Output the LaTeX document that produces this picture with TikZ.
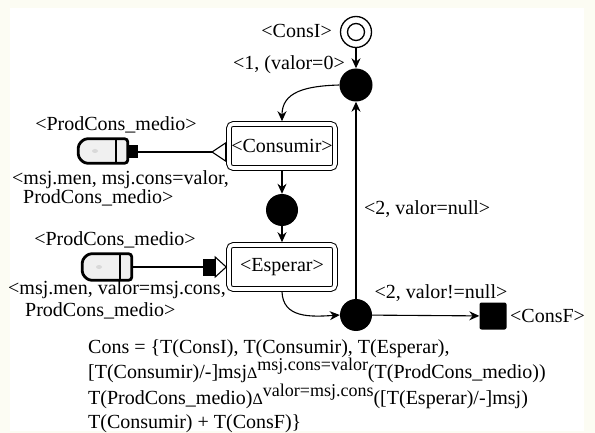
\documentclass[tikz,border=0pt]{standalone}
\usepackage{fontspec}
\setmainfont{Liberation Serif}
\usetikzlibrary{arrows.meta,calc}
\definecolor{cream}{HTML}{FCFCF3}
\definecolor{iconfill}{HTML}{F0F0F0}
\newcommand\mysup[1]{\raisebox{8pt}{\fontsize{18}{18}\selectfont #1}}
\newcommand\mydelta{{\fontsize{16}{16}\selectfont Δ}}
\begin{document}
\begin{tikzpicture}[x=1pt,y=-1pt,
  every node/.style={font=\fontsize{20}{22}\selectfont, inner sep=0pt},
  junc/.style={circle, fill=black, minimum size=33pt},
  statebox/.style={draw, rounded corners=4pt, double, double distance=3.6pt, line width=1pt,
    minimum width=106pt, minimum height=44pt, outer sep=2.8pt},
  arr/.style={line width=1.1pt, -{Stealth[length=10pt,width=9pt]}},
  conn/.style={line width=1.1pt},
  iconbody/.style={line width=2.8pt, fill=iconfill, rounded corners=3pt},
  iconsq/.style={fill=black},
]
\fill[cream] (0,0) rectangle (595,433);
\fill[white] (10,8) rectangle (584,431);
\useasboundingbox (0,0) rectangle (595,433);

% states and junctions
\node[draw, circle, line width=1.3pt, minimum size=31pt] (consI) at (356,32) {};
\node[draw, circle, line width=1.3pt, minimum size=17pt] (consIin) at (consI) {};
\node[anchor=east] (labConsI) at (332,31) {<ConsI>};
\node[junc] (j1) at (356,85) {};
\node[anchor=east] (lab1) at (345,65) {<1, (valor=0>};
\node[statebox] (cons) at (282,146) {<Consumir>};
\node[junc, minimum size=32pt] (j2) at (282,210) {};
\node[statebox] (esp) at (282,267) {<Esperar>};
\node[junc, minimum size=32pt] (j3) at (356,315) {};
\node[fill=black, rounded corners=2pt, minimum size=27pt] (consF) at (493,316) {};
\node[anchor=west] (labF) at (510,316) {<ConsF>};
\node (lab2b) at (441,293) {<2, valor!=null>};
\node[anchor=west] (lab2a) at (364,209) {<2, valor=null>};

% transitions
\draw[arr] (consI) -- (j1);
\draw[arr] (j1.west) .. controls (305,86) and (282,92) .. (cons.north);
\draw[arr] (cons) -- (j2);
\draw[arr] (j2) -- (esp);
\draw[arr] (esp.south) .. controls (283,318) and (310,317) .. (j3.west);
\draw[arr] (j3) -- (j1);
\draw[arr] (j3) -- (consF);

% upper medium icon
\node[minimum width=49pt, minimum height=24pt] (ico1) at (103,151) {};
\draw[iconbody] ([xshift=6pt]ico1.north west) -- (ico1.north east) -- (ico1.south east)
  -- ([xshift=6pt]ico1.south west) -- ([yshift=6pt]ico1.south west)
  -- ([yshift=-6pt]ico1.north west) -- cycle;
\draw[line width=1.8pt] ([xshift=-12pt]ico1.north east) -- ([xshift=-12pt]ico1.south east);
\fill[gray!30] ($(ico1.center)+(-8,0)$) ellipse (3pt and 2pt);
\node[iconsq, minimum width=10pt, minimum height=13pt] (sq1) at (133,152) {};
\coordinate (t1) at (212,152);
\draw[conn] (sq1.east) -- (t1);
\draw[conn, fill=white] (t1) -- ++(13.6,-9) -- ++(0,18) -- cycle;
\node (lu1) at (116,125) {<ProdCons\_medio>};
\node[anchor=west] (lu2) at (12,180) {<msj.men, msj.cons=valor,};
\node[anchor=west] (lu3) at (23,198) {ProdCons\_medio>};

% lower medium icon
\node[minimum width=49pt, minimum height=26pt] (ico2) at (107,267) {};
\draw[iconbody] ([xshift=6pt]ico2.north west) -- (ico2.north east) -- (ico2.south east)
  -- ([xshift=6pt]ico2.south west) -- ([yshift=6pt]ico2.south west)
  -- ([yshift=-6pt]ico2.north west) -- cycle;
\draw[line width=1.8pt] ([xshift=-12pt]ico2.north east) -- ([xshift=-12pt]ico2.south east);
\fill[gray!30] ($(ico2.center)+(-8,0)$) ellipse (3pt and 2pt);
\node[iconsq, minimum width=12pt, minimum height=17pt] (sq2) at (209,267) {};
\draw[conn] (ico2.east) -- (sq2.west);
\draw[conn, fill=white] ($(sq2.east)+(0,-10)$) -- (esp.west) -- ($(sq2.east)+(0,10)$) -- cycle;
\node (ll1) at (115,240) {<ProdCons\_medio>};
\node[anchor=west] (ll2) at (8,290) {<msj.men, valor=msj.cons,};
\node[anchor=west] (ll3) at (25,311) {ProdCons\_medio>};

% formula
\node[anchor=north west, align=left, font=\fontsize{20}{23.5}\selectfont] (formula) at (88,339)
  {Cons = \{T(ConsI), T(Consumir), T(Esperar),\\
   {[}T(Consumir)/-]msj\mydelta\mysup{msj.cons=valor}(T(ProdCons\_medio))\\
   T(ProdCons\_medio)\mydelta\mysup{valor=msj.cons}([T(Esperar)/-]msj)\\
   T(Consumir) + T(ConsF)\}};
\end{tikzpicture}
\end{document}
